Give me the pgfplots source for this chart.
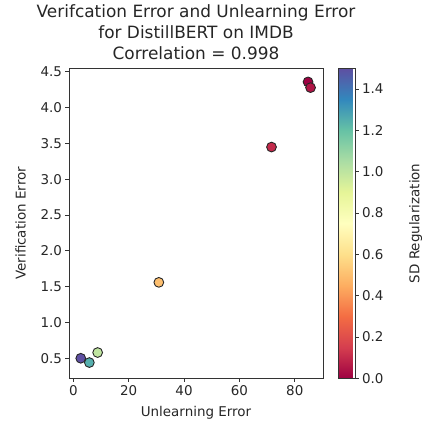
\documentclass[border=0pt]{standalone}
\usepackage{fontspec}
\setmainfont{DejaVu Sans}
\usepackage{pgfplots}
\pgfplotsset{compat=1.18}
\pgfplotsset{colormap={spectral}{rgb255=(158,1,66) rgb255=(213,62,79) rgb255=(244,109,67) rgb255=(253,174,97) rgb255=(254,224,139) rgb255=(255,255,191) rgb255=(230,245,152) rgb255=(171,221,164) rgb255=(102,194,165) rgb255=(50,136,189) rgb255=(94,79,162)}}
\begin{document}
\begin{tikzpicture}
\begin{axis}[
    at={(0,0)}, anchor=south west,
    scale only axis,
    width=254bp, height=310bp,
    xmin=-1.55, xmax=90.2,
    ymin=0.22, ymax=4.55,
    xtick={0,20,40,60,80},
    ytick={0.5,1,1.5,2,2.5,3,3.5,4,4.5},
    xtick pos=bottom, ytick pos=left,
    /pgf/number format/assume math mode=true,
    yticklabel style={/pgf/number format/fixed,/pgf/number format/fixed zerofill,/pgf/number format/precision=1},
    ticklabel style={font=\fontsize{13.5}{15}\selectfont, text=black!85},
    label style={font=\fontsize{13.5}{15}\selectfont, text=black!85},
    xlabel style={yshift=-4bp},
    ylabel style={yshift=8bp},
    tick align=outside,
    major tick length=3.5bp,
    tick style={black!80, line width=0.8pt},
    axis line style={black!80, line width=0.8pt},
    xlabel={Unlearning Error},
    ylabel={Verification Error},
    title={Verifcation Error and Unlearning Error\\for DistillBERT on IMDB\\Correlation = 0.998},
    title style={align=center, font=\fontsize{17}{21}\selectfont, text=black!85, at={(0.5,1)}, anchor=south, yshift=-1bp},
    colormap name=spectral,
    point meta min=0, point meta max=1.5,
    colorbar,
    colorbar style={
        at={(parent axis.north east)}, anchor=north west, xshift=7bp,
        width=16.5bp,
        ytick={0,0.2,0.4,0.6,0.8,1.0,1.2,1.4},
        ytick pos=right,
        tick align=outside,
        /pgf/number format/assume math mode=true,
        yticklabel style={/pgf/number format/fixed,/pgf/number format/fixed zerofill,/pgf/number format/precision=1,
            font=\fontsize{13.5}{15}\selectfont, text=black!85},
        ylabel={SD Regularization},
        ylabel style={font=\fontsize{13.5}{15}\selectfont, text=black!85, yshift=-19bp},
        axis line style={black!80, line width=0.8pt},
        tick style={black!80, line width=0.8pt},
        major tick length=3.5bp,
    },
]
\addplot[scatter, only marks, mark=*, mark size=4.9pt,
    point meta=explicit,
    scatter/use mapped color={draw=black!85, fill=mapped color},
    mark options={line width=0.9pt}]
    table[x=x, y=y, meta=c] {
x y c
2.7 0.50 1.5
5.8 0.44 1.25
8.8 0.58 1.0
30.9 1.56 0.5
71.6 3.45 0.1
84.8 4.36 0.0
85.7 4.28 0.05
};
\end{axis}
\pgfresetboundingbox
\path (-69bp,-46.7bp) rectangle (353bp,378.3bp);
\end{tikzpicture}
\end{document}
